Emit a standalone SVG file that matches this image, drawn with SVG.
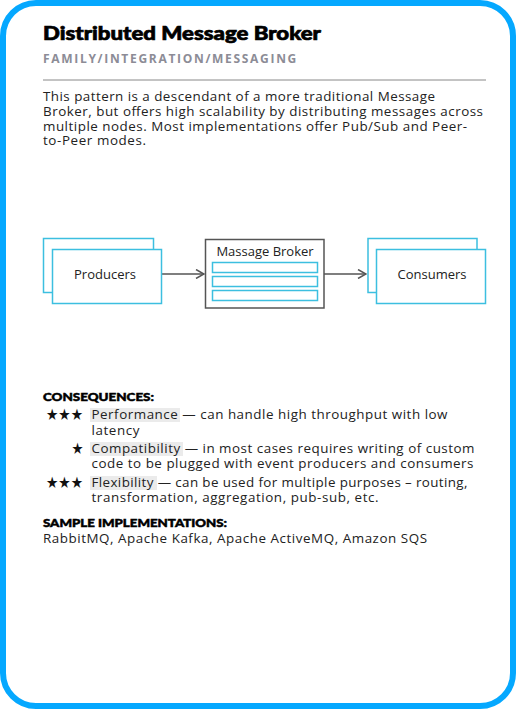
<svg xmlns="http://www.w3.org/2000/svg" width="516" height="710" viewBox="0 0 516 710">
<defs>
<style>
.body{font-family:"Open Sans","Liberation Sans",sans-serif;font-size:13.4px;fill:#222;}
.head{font-family:Lato,"Liberation Sans",sans-serif;font-weight:900;fill:#000;stroke:#000;}
.sub{font-family:"Open Sans","Liberation Sans",sans-serif;font-weight:700;font-size:11.5px;fill:#8c8c96;letter-spacing:1.6px;}
.blue{fill:#fff;stroke:#3cbfe0;stroke-width:1.5;}
.lbl{font-family:"Open Sans","Liberation Sans",sans-serif;font-size:13px;fill:#222;text-anchor:middle;}
.conn{stroke:#555;stroke-width:1.5;fill:none;}
.hl{fill:#ebebeb;}
.star{font-family:"DejaVu Sans",sans-serif;font-size:16px;fill:#111;}
</style>
<marker id="arr" viewBox="0 0 10 10" refX="9" refY="5" markerWidth="10" markerHeight="10" markerUnits="userSpaceOnUse" orient="auto">
<path d="M1,0.5 L9,5 L1,9.5" fill="none" stroke="#555" stroke-width="1.5"/>
</marker>
</defs>
<rect x="3" y="3" width="510" height="703" rx="33" fill="#fff" stroke="#05a8ff" stroke-width="6"/>
<text class="head" x="43" y="40" font-size="19" stroke-width="0.7" textLength="278" lengthAdjust="spacingAndGlyphs">Distributed Message Broker</text>
<text class="sub" x="43" y="63" textLength="255" lengthAdjust="spacingAndGlyphs">FAMILY/INTEGRATION/MESSAGING</text>
<line x1="43" y1="80" x2="486" y2="80" stroke="#888" stroke-width="1"/>
<g class="body">
<text x="43" y="101" textLength="392" lengthAdjust="spacing">This pattern is a descendant of a more traditional Message</text>
<text x="43" y="116" textLength="440" lengthAdjust="spacing">Broker, but offers high scalability by distributing messages across</text>
<text x="43" y="130.5" textLength="424" lengthAdjust="spacing">multiple nodes. Most implementations offer Pub/Sub and Peer-</text>
<text x="43" y="145" textLength="103" lengthAdjust="spacing">to-Peer modes.</text>
</g>
<g id="connectors">
<line class="conn" x1="162" y1="274" x2="204" y2="274" marker-end="url(#arr)"/>
<line class="conn" x1="324" y1="274" x2="366" y2="274" marker-end="url(#arr)"/>
</g>
<g id="producers">
<rect class="blue" x="43.5" y="238.5" width="110" height="54"/>
<rect class="blue" x="52.5" y="249.5" width="109" height="54"/>
<text class="lbl" x="105" y="279">Producers</text>
</g>
<g id="broker">
<rect x="205.5" y="239.5" width="118.5" height="68.5" fill="#fff" stroke="#555" stroke-width="1.5"/>
<text class="lbl" x="265" y="256">Massage Broker</text>
<rect class="blue" x="212.5" y="262.5" width="105" height="10"/>
<rect class="blue" x="212.5" y="276.5" width="105" height="10"/>
<rect class="blue" x="212.5" y="290.5" width="105" height="10"/>
</g>
<g id="consumers">
<rect class="blue" x="368" y="238.5" width="109" height="54"/>
<rect class="blue" x="376.5" y="249.5" width="109" height="54"/>
<text class="lbl" x="432" y="279">Consumers</text>
</g>
<text class="head" x="43" y="401" font-size="11.5" stroke-width="0.5" textLength="111" lengthAdjust="spacingAndGlyphs">CONSEQUENCES:</text>
<rect class="hl" x="90" y="408" width="90" height="14"/>
<rect class="hl" x="90" y="442" width="93" height="14"/>
<rect class="hl" x="90" y="476" width="67" height="14"/>
<text class="star" x="46" y="420" textLength="37" lengthAdjust="spacingAndGlyphs">★★★</text>
<text class="star" x="71.5" y="454" textLength="12" lengthAdjust="spacingAndGlyphs">★</text>
<text class="star" x="46" y="488" textLength="37" lengthAdjust="spacingAndGlyphs">★★★</text>
<g class="body">
<text x="91.5" y="419" textLength="356" lengthAdjust="spacing">Performance — can handle high throughput with low</text>
<text x="91.5" y="435" textLength="48" lengthAdjust="spacing">latency</text>
<text x="91.5" y="453" textLength="383" lengthAdjust="spacing">Compatibility — in most cases requires writing of custom</text>
<text x="91.5" y="468" textLength="382" lengthAdjust="spacing">code to be plugged with event producers and consumers</text>
<text x="91.5" y="487" textLength="376" lengthAdjust="spacing">Flexibility — can be used for multiple purposes – routing,</text>
<text x="91.5" y="502" textLength="287" lengthAdjust="spacing">transformation, aggregation, pub-sub, etc.</text>
</g>
<text class="head" x="43" y="527" font-size="11.5" stroke-width="0.5" textLength="184" lengthAdjust="spacingAndGlyphs">SAMPLE IMPLEMENTATIONS:</text>
<text class="body" x="43" y="543" textLength="384" lengthAdjust="spacing">RabbitMQ, Apache Kafka, Apache ActiveMQ, Amazon SQS</text>
</svg>
